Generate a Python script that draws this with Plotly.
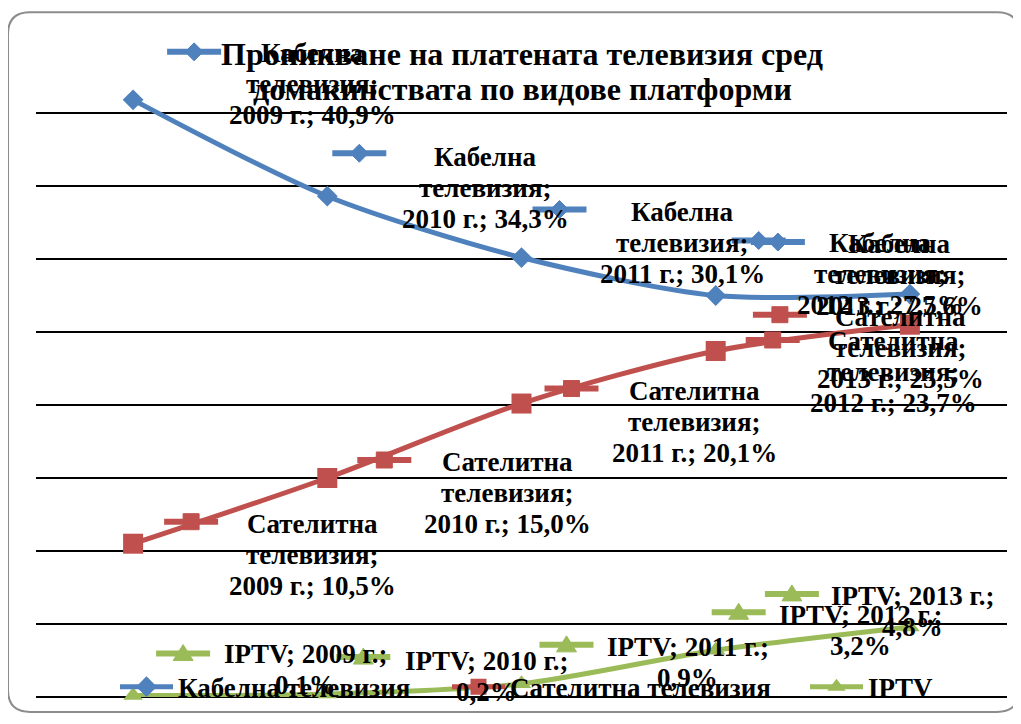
import plotly.graph_objects as go

# данни
years = [2009, 2010, 2011, 2012, 2013]
cable = [40.9, 34.3, 30.1, 27.5, 27.6]
satellite = [10.5, 15.0, 20.1, 23.7, 25.5]
iptv = [0.1, 0.2, 0.9, 3.2, 4.8]
series_names = ["Кабелна телевизия", "Сателитна телевизия", "IPTV"]
title_lines = ["Проникване на платената телевизия сред", "домакинствата по видове платформи"]

# отмествания на етикетите и ключовете спрямо точката (px, надолу е +)
cable_label_off = [(179, -16), (158, -8), (161, -15), (165, -22), (-10, -19)]
cable_key_off = [(61, -48), (32, -43), (38, -48), (43, -55), (-132, -52)]
sat_label_off = [(179, 11), (180, 15), (173, 18), (178, 21), (-9, 23)]
sat_key_off = [(58, -22), (57, -18), (50, -15), (57, -11), (-130, -10)]
iptv_label_off = [(172, -26), (159, -18), (166, -21), (145, -20), (3, -15)]
iptv_key_off = [(50, -42), (36, -37), (45, -39), (23, -38), (-118, -33)]

colors = ["#4F81BD", "#C0504D", "#9BBB59"]
symbols = ["diamond", "square", "triangle-up"]
msizes = [16, 20, 17]
FONT = "Liberation Serif"
LINE_H = 31

# страницата има 8px отстъп на body
OFF = 8
W, H = 1021 - OFF, 724 - OFF
PL, PT, PR, PB = 36, 40, 1007, 702   # зона на графиката в пиксели на страницата


def px(x):
    return (x - PL) / (PR - PL)


def py(y):
    return (PB - y) / (PB - PT)


fig = go.Figure()
legend_ids = ['legend', 'legend2', 'legend3']
for name, vals, c, s, ms, lg in zip(series_names, [cable, satellite, iptv], colors, symbols, msizes, legend_ids):
    fig.add_trace(go.Scatter(x=years, y=vals, mode='lines+markers', name=name, legend=lg,
                             line=dict(color=c, width=5, shape='spline', smoothing=0.8),
                             marker=dict(symbol=s, size=ms, color=c),
                             cliponaxis=False))


def fmt(v):
    return ("%.1f" % v).replace(".", ",") + "%"


def key_marker_path(kind, cx, cy):
    # cx, cy в пиксели, y нагоре
    if kind == 0:
        return "M %d,%d L %d,%d L %d,%d L %d,%d Z" % (cx - 9, cy, cx, cy + 9, cx + 9, cy, cx, cy - 9)
    if kind == 1:
        return "M %d,%d L %d,%d L %d,%d L %d,%d Z" % (cx - 8, cy - 8, cx - 8, cy + 8, cx + 8, cy + 8, cx + 8, cy - 8)
    return "M %d,%d L %d,%d L %d,%d Z" % (cx - 10, cy - 7, cx + 10, cy - 7, cx, cy + 9)


shapes = []
annotations = []
label_sets = [
    (cable, cable_label_off, cable_key_off, lambda y, v: ["Кабелна", "телевизия;", "%d г.; %s" % (y, fmt(v))]),
    (satellite, sat_label_off, sat_key_off, lambda y, v: ["Сателитна", "телевизия;", "%d г.; %s" % (y, fmt(v))]),
    (iptv, iptv_label_off, iptv_key_off, lambda y, v: ["IPTV; %d г.;" % y, fmt(v)]),
]
for k, (vals, loffs, koffs, maketext) in enumerate(label_sets):
    for yr, v, lo, ko in zip(years, vals, loffs, koffs):
        kx, ky = ko[0], -ko[1]
        shapes.append(dict(type='line', xref='x', yref='y', xsizemode='pixel', ysizemode='pixel',
                           xanchor=yr, yanchor=v, x0=kx - 27, x1=kx + 27, y0=ky, y1=ky,
                           line=dict(color=colors[k], width=6), layer='above'))
        shapes.append(dict(type='path', xref='x', yref='y', xsizemode='pixel', ysizemode='pixel',
                           xanchor=yr, yanchor=v, path=key_marker_path(k, kx, ky),
                           fillcolor=colors[k], line=dict(color=colors[k], width=1), layer='above'))
        lines = maketext(yr, v)
        n = len(lines)
        for i, t in enumerate(lines):
            dy = lo[1] + (i - (n - 1) / 2) * LINE_H
            annotations.append(dict(x=yr, y=v, xref='x', yref='y', showarrow=False,
                                    xshift=lo[0], yshift=-dy, text="<b>%s</b>" % t,
                                    xanchor='center', yanchor='middle',
                                    font=dict(family=FONT, size=27, color='black')))

# заглавие
for t, ty in zip(title_lines, [54, 89]):
    annotations.append(dict(x=px(522), y=py(ty), xref='paper', yref='paper', showarrow=False,
                            text="<b>%s</b>" % t, xanchor='center', yanchor='middle',
                            font=dict(family=FONT, size=32, color='black')))

# рамка със заоблени ъгли
x0b, y0b, x1b, y1b, rr = 8, 12, 1019, 717, 22
frame = ("M %f,%f L %f,%f Q %f,%f %f,%f L %f,%f Q %f,%f %f,%f L %f,%f Q %f,%f %f,%f L %f,%f Q %f,%f %f,%f Z" % (
    px(x0b + rr), py(y0b), px(x1b - rr), py(y0b), px(x1b), py(y0b), px(x1b), py(y0b + rr),
    px(x1b), py(y1b - rr), px(x1b), py(y1b), px(x1b - rr), py(y1b),
    px(x0b + rr), py(y1b), px(x0b), py(y1b), px(x0b), py(y1b - rr),
    px(x0b), py(y0b + rr), px(x0b), py(y0b), px(x0b + rr), py(y0b)))
shapes.append(dict(type='path', xref='paper', yref='paper', path=frame,
                   line=dict(color='#8C8C8C', width=2), layer='below'))

legend_style = dict(orientation='h', y=py(692), xanchor='left', yanchor='middle', itemwidth=53,
                    bgcolor='rgba(0,0,0,0)',
                    font=dict(family=FONT, size=27, color='black', weight='bold'))

fig.update_layout(
    width=W, height=H,
    margin=dict(l=PL - OFF, r=1021 - PR, t=PT - OFF, b=724 - PB),
    paper_bgcolor='white', plot_bgcolor='white',
    showlegend=True,
    legend=dict(x=px(115), **legend_style),
    legend2=dict(x=px(447), **legend_style),
    legend3=dict(x=px(805), **legend_style),
    shapes=shapes,
    annotations=annotations,
)
fig.update_xaxes(range=[2008.5, 2013.5], showgrid=False, showticklabels=False, zeroline=False,
                 showline=False, ticks='')
fig.update_yaxes(range=[0, 45], dtick=5, showgrid=True, gridcolor='black', gridwidth=2,
                 showticklabels=False, zeroline=True, zerolinecolor='black', zerolinewidth=2,
                 showline=False, ticks='')

fig.write_html("out.html")
